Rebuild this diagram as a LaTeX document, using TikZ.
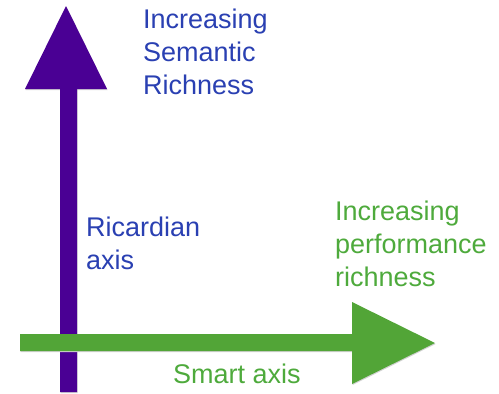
\documentclass[tikz,border=0pt]{standalone}
\usepackage{fontspec}
\setmainfont{Liberation Sans}
\definecolor{axpurple}{RGB}{74,0,148}
\definecolor{axgreen}{RGB}{82,165,55}
\definecolor{txblue}{RGB}{42,64,178}
\definecolor{txgreen}{RGB}{78,170,60}
\tikzset{
  lbl/.style={anchor=north west, inner sep=0pt, align=left,
    font=\fontsize{27}{33}\selectfont},
  shadowed/.style={preaction={fill=black!18, transform canvas={xshift=0.6pt, yshift=-1pt}}}
}
\begin{document}
\begin{tikzpicture}[x=1pt, y=-1pt]
\useasboundingbox (0,0) rectangle (499,394);
% purple vertical arrow
\fill[axpurple, shadowed] (60,392) -- (60,89) -- (25,89) -- (66,6) -- (107,89) -- (77,89) -- (77,392) -- cycle;
% green horizontal arrow
\fill[axgreen, shadowed] (20,334) -- (352,334) -- (352,302) -- (435,343) -- (352,384) -- (352,351) -- (20,351) -- cycle;
% labels
\node[lbl, text=txblue] (sem) at (143,9) {Increasing\\Semantic\\Richness};
\node[lbl, text=txblue] (ric) at (86,217) {Ricardian\\axis};
\node[lbl, text=txgreen] (perf) at (335,201) {Increasing\\performance\\richness};
\node[lbl, text=txgreen] (smart) at (173,364) {Smart axis};
\end{tikzpicture}
\end{document}
